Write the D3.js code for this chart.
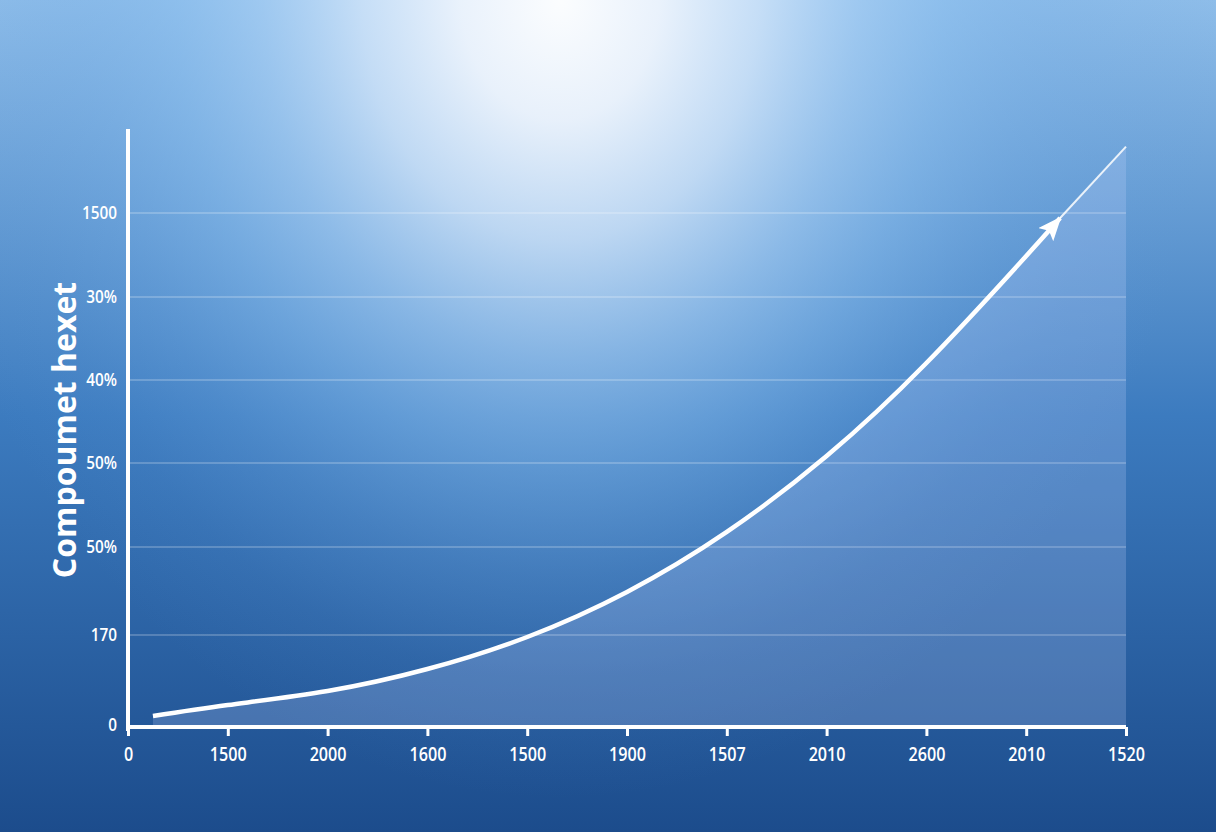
<!DOCTYPE html>
<html>
<head>
<meta charset="utf-8">
<script src="https://cdn.jsdelivr.net/npm/d3@7"></script>
<style>
  html, body { margin: 0; padding: 0; background: #1d4f8f; }
  svg { display: block; }
</style>
</head>
<body>
<svg id="chart" width="1216" height="832"></svg>
<script>
// ---- data ----
const xLabels = ["0", "1500", "2000", "1600", "1500", "1900", "1507", "2010", "2600", "2010", "1520"];
const yLabels = ["0", "170", "50%", "50%", "40%", "30%", "1500"];
const yTitle = "Compoumet hexet";
// curve (x in category index units, y in tick index units)
const curveX = [0.25, 1, 2, 3, 4, 5, 6, 7, 8, 9, 9.34];
const curveY = [0.10, 0.222, 0.378, 0.622, 0.978, 1.489, 2.179, 3.084, 4.205, 5.488, 5.94];
const tailX = [9.34, 10];
const tailY = [5.94, 6.79];

// ---- layout ----
const W = 1216, H = 832;
const svg = d3.select("#chart");
const defs = svg.append("defs");

// background
const lin = defs.append("linearGradient").attr("id", "bgLin")
  .attr("x1", 0).attr("y1", 0).attr("x2", 0).attr("y2", 1);
[[0, "#8ebde9"], [0.5, "#3c7bbf"], [1, "#1c4c8c"]]
  .forEach(([o, c]) => lin.append("stop").attr("offset", o).attr("stop-color", c));
const rad = defs.append("radialGradient").attr("id", "bgGlow")
  .attr("gradientUnits", "userSpaceOnUse")
  .attr("cx", 0).attr("cy", 0).attr("r", 1)
  .attr("gradientTransform", "translate(560,0) scale(660,800)");
[[0, "#ffffff", 0.97], [0.15, "#f4f8fe", 0.9], [0.3, "#d6e8fb", 0.78], [0.45, "#a9d0f5", 0.62],
 [0.58, "#8cc0f0", 0.46], [0.72, "#78b0e8", 0.26], [0.85, "#6aa4e2", 0.1], [1, "#5a98dc", 0]]
  .forEach(([o, c, a]) => rad.append("stop").attr("offset", o).attr("stop-color", c).attr("stop-opacity", a));

svg.append("rect").attr("width", W).attr("height", H).attr("fill", "url(#bgLin)");
svg.append("rect").attr("width", W).attr("height", H).attr("fill", "url(#bgGlow)");

// scales
const x = d3.scaleLinear().domain([0, 10]).range([128, 1126]);
const y = d3.scaleLinear().domain([0, 1, 2, 3, 4, 5, 6]).range([725, 635, 547, 463, 380, 297, 213]);

// gridlines
svg.append("g").selectAll("line").data(d3.range(1, yLabels.length)).join("line")
  .attr("x1", x(0) + 2).attr("x2", x(10))
  .attr("y1", d => y(d)).attr("y2", d => y(d))
  .attr("stroke", "#ffffff").attr("stroke-opacity", 0.28).attr("stroke-width", 1.5);

// area
const pts = curveX.map((v, i) => [v, curveY[i]]);
const allPts = pts.concat([[tailX[1], tailY[1]]]);
const area = d3.area().x(d => x(d[0])).y0(y(0)).y1(d => y(d[1])).curve(d3.curveNatural);
svg.append("path").datum(allPts).attr("d", area)
  .attr("fill", "#c8d8ff").attr("fill-opacity", 0.22);

// thin tail line
svg.append("path").datum(tailX.map((v, i) => [v, tailY[i]]))
  .attr("d", d3.line().x(d => x(d[0])).y(d => y(d[1])))
  .attr("fill", "none").attr("stroke", "#ffffff").attr("stroke-opacity", 0.85).attr("stroke-width", 2);

// arrow marker
defs.append("marker").attr("id", "arrow")
  .attr("markerUnits", "userSpaceOnUse")
  .attr("viewBox", "0 0 24 20").attr("refX", 22).attr("refY", 10)
  .attr("markerWidth", 24).attr("markerHeight", 20).attr("orient", "auto")
  .append("path").attr("d", "M0,0 L24,10 L0,20 L5,10 Z").attr("fill", "#ffffff");

// main line
svg.append("path").datum(pts)
  .attr("d", d3.line().x(d => x(d[0])).y(d => y(d[1])).curve(d3.curveNatural))
  .attr("fill", "none").attr("stroke", "#ffffff").attr("stroke-width", 4.5)
  .attr("stroke-linecap", "butt")
  .attr("marker-end", "url(#arrow)");

// axes
const font = "'Open Sans', sans-serif";
const xAxis = svg.append("g").attr("transform", `translate(0,${y(0) + 2})`)
  .call(d3.axisBottom(x).tickValues(d3.range(0, 11)).tickFormat(i => xLabels[i]).tickSize(9).tickPadding(12));
xAxis.select(".domain").attr("stroke", "#ffffff").attr("stroke-width", 4)
  .attr("d", `M${x(0)},0H${x(10)}`);
xAxis.selectAll(".tick line").attr("stroke", "#ffffff").attr("stroke-width", 3);
xAxis.selectAll(".tick text").attr("fill", "#ffffff").style("font-family", font)
  .style("font-size", "19px").style("font-weight", 600)
  .attr("transform", "scale(0.85,1)");

const yAxis = svg.append("g").attr("transform", `translate(${x(0)},0)`)
  .call(d3.axisLeft(y).tickValues(d3.range(0, 7)).tickFormat(i => yLabels[i]).tickSize(0).tickPadding(13));
yAxis.select(".domain").attr("stroke", "#ffffff").attr("stroke-width", 4)
  .attr("d", `M0,${y(0) + 6}V${y(7)}`);
yAxis.selectAll(".tick text").attr("fill", "#ffffff").style("font-family", font)
  .style("font-size", "18px").style("font-weight", 600)
  .attr("transform", "scale(0.85,1)");

// y title
svg.append("text")
  .attr("transform", `translate(76,430) rotate(-90)`)
  .attr("text-anchor", "middle")
  .attr("fill", "#ffffff")
  .style("font-family", "'Open Sans', sans-serif")
  .style("font-size", "32px").style("font-weight", 700)
  .text(yTitle);
</script>
</body>
</html>
